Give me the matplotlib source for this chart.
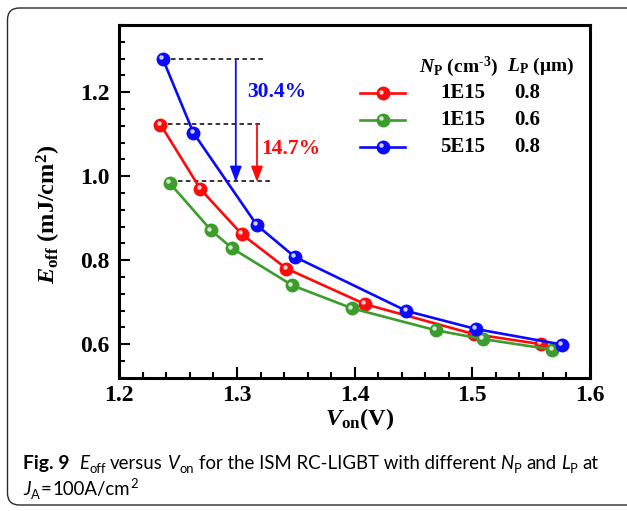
import matplotlib
matplotlib.use("Agg")
import matplotlib.pyplot as plt
from matplotlib.lines import Line2D
from matplotlib.patches import FancyBboxPatch
from matplotlib.transforms import offset_copy, IdentityTransform
from matplotlib.ticker import MultipleLocator

# ---------------- data ----------------
red_x = [1.235, 1.269, 1.304, 1.342, 1.409, 1.501, 1.558]
red_y = [1.123, 0.969, 0.862, 0.780, 0.695, 0.624, 0.600]
green_x = [1.243, 1.278, 1.296, 1.347, 1.398, 1.469, 1.509, 1.568]
green_y = [0.983, 0.871, 0.828, 0.740, 0.685, 0.633, 0.612, 0.587]
blue_x = [1.237, 1.263, 1.317, 1.349, 1.444, 1.503, 1.576]
blue_y = [1.279, 1.103, 0.883, 0.808, 0.679, 0.636, 0.599]

series_np = ["1E15", "1E15", "5E15"]
series_lp = ["0.8", "0.6", "0.8"]

dash_y = [1.279, 1.125, 0.988]
dash_x0 = [1.237, 1.235, 1.243]
dash_x1 = [1.323, 1.322, 1.328]

arrow_x = [1.299, 1.317]
arrow_top = [1.275, 1.122]
arrow_bottom = [0.986, 0.986]
pct_labels = ["30.4%", "14.7%"]
pct_x = [1.334, 1.346]
pct_y = [1.200, 1.064]

xticks = [1.2, 1.3, 1.4, 1.5, 1.6]
yticks = [0.6, 0.8, 1.0, 1.2]

RED = "#ff0a0a"
GREEN = "#3c9c2c"
BLUE = "#0a0aff"

# ---------------- style ----------------
plt.rcParams["mathtext.fontset"] = "custom"
plt.rcParams["mathtext.rm"] = "Liberation Serif:bold"
plt.rcParams["mathtext.bf"] = "Liberation Serif:bold"
plt.rcParams["mathtext.it"] = "Liberation Serif:italic:bold"
SERIF = "Liberation Serif"

fig = plt.figure(figsize=(6.27, 5.11), dpi=100)
W, H = 627, 511
ax = fig.add_axes([119.3 / W, 1 - 377.7 / H, (590 - 119.3) / W, (377.7 - 25) / H])

# figure border (rounded box)
border = FancyBboxPatch((7.5, 6), 680, 497, boxstyle="round,pad=0,rounding_size=12",
                        transform=IdentityTransform(), fill=False,
                        edgecolor="#2a2a2a", linewidth=1.0)
fig.patches.append(border)

hl = offset_copy(ax.transData, fig=fig, x=-1.8, y=1.8, units="dots")


def ball_series(x, y, color, z):
    ax.plot(x, y, color=color, lw=1.9, marker="o", ms=10, mec=color, mew=0, zorder=z)
    ax.plot(x, y, ls="none", marker="o", ms=3.2, mfc="white", mec="none", alpha=0.8,
            transform=hl, zorder=z + 0.1)


ball_series(red_x, red_y, RED, 3)
ball_series(green_x, green_y, GREEN, 4)
ball_series(blue_x, blue_y, BLUE, 5)

for y0, x0, x1 in zip(dash_y, dash_x0, dash_x1):
    ax.plot([x0, x1], [y0, y0], color="black", lw=1.1, ls=(0, (3.0, 2.2)), zorder=2)

for xa, yt, yb, c in zip(arrow_x, arrow_top, arrow_bottom, [BLUE, RED]):
    ax.annotate("", xy=(xa, yb), xytext=(xa, yt),
                arrowprops=dict(arrowstyle="-|>,head_length=0.85,head_width=0.32",
                                color=c, lw=1.3, shrinkA=0, shrinkB=0, mutation_scale=11),
                zorder=6)

for s, xx, yy, c in zip(pct_labels, pct_x, pct_y, [BLUE, RED]):
    ax.text(xx, yy, s, color=c, fontsize=15.5, fontweight="bold", family=SERIF,
            ha="center", va="center")

# ---------------- legend table ----------------
LFS = 15
hx0, hx1, hxm = 0.511, 0.607, 0.560
rows_y = [0.806, 0.731, 0.655]
for yy, c, a, b in zip(rows_y, [RED, GREEN, BLUE], series_np, series_lp):
    ax.add_line(Line2D([hx0, hx1], [yy, yy], color=c, lw=1.9, transform=ax.transAxes))
    ax.plot([hxm], [yy], marker="o", ms=10, color=c, mew=0, transform=ax.transAxes)
    ax.plot([hxm], [yy], marker="o", ms=3.2, mfc="white", mec="none", alpha=0.8,
            transform=offset_copy(ax.transAxes, fig=fig, x=-1.8, y=1.8, units="dots"))
    ax.text(0.730, yy, a, transform=ax.transAxes, fontsize=LFS, fontweight="bold",
            family=SERIF, ha="center", va="center")
    ax.text(0.866, yy, b, transform=ax.transAxes, fontsize=LFS, fontweight="bold",
            family=SERIF, ha="center", va="center")
ax.text(0.720, 0.882, r"$N_{\mathrm{P}}$ (cm$^{\mathrm{\text{-}3}}$)", transform=ax.transAxes,
        fontsize=14, fontweight="bold", family=SERIF, ha="center", va="center")
ax.text(0.895, 0.882, r"$L_{\mathrm{P}}$ ($\mathrm{\mu}$m)", transform=ax.transAxes,
        fontsize=14, fontweight="bold", family=SERIF, ha="center", va="center")

# ---------------- axes ----------------
ax.set_xlim(1.2, 1.6)
ax.set_ylim(0.52, 1.36)
ax.set_xticks(xticks)
ax.set_xticklabels([f"{v:.1f}" for v in xticks])
ax.set_yticks(yticks)
ax.set_yticklabels([f"{v:.1f}" for v in yticks])
ax.xaxis.set_minor_locator(MultipleLocator(0.02))
ax.yaxis.set_minor_locator(MultipleLocator(0.04))
ax.tick_params(which="both", direction="in", top=False, right=False, width=1.5)
ax.tick_params(which="major", length=8)
ax.tick_params(which="minor", length=4.2)
ax.tick_params(axis="x", pad=5)
ax.tick_params(axis="y", pad=7)
for lab in ax.get_xticklabels() + ax.get_yticklabels():
    lab.set_fontfamily(SERIF)
    lab.set_fontweight("bold")
    lab.set_fontsize(17)
for sp in ax.spines.values():
    sp.set_linewidth(2.2)

fig.text(49 / W, 1 - 214 / H, r"$E_{\mathrm{off}}$ (mJ/cm$^{\mathrm{2}}$)", rotation=90,
         fontsize=17.5, fontweight="bold", family=SERIF, ha="center", va="center")
fig.text(360 / W, 1 - 425 / H, r"$V_{\mathrm{on}}$(V)", fontsize=17.5, fontweight="bold",
         family=SERIF, ha="center", va="baseline")

# ---------------- caption (run layout) ----------------
CAP = "Lato"
CFS = 13.4
renderer = fig.canvas.get_renderer()


def measure(s, **kw):
    t = fig.text(0, 0, s, **kw)
    w = t.get_window_extent(renderer).width
    t.remove()
    return w


space_w = measure("a a", family=CAP, fontsize=CFS) - measure("aa", family=CAP, fontsize=CFS)


def layout(x_px, base_px, runs):
    x = x_px
    for s, style, kind, gap in runs:
        x += gap * space_w
        fs = CFS if kind == "n" else CFS * 0.7
        dy = 0 if kind == "n" else (-3.5 if kind == "sub" else 7.0)
        kw = dict(family=CAP, fontsize=fs, va="baseline", ha="left")
        if style == "b":
            kw["fontweight"] = "bold"
            kw["fontsize"] = fs * 1.04
        elif style == "i":
            kw["style"] = "italic"
        t = fig.text(x / W, (H - base_px + dy) / H, s, **kw)
        x = t.get_window_extent(renderer).x1


layout(23, 469, [
    ("Fig. 9", "b", "n", 0), ("E", "i", "n", 2), ("off", "r", "sub", 0),
    ("versus", "r", "n", 1), ("V", "i", "n", 1), ("on", "r", "sub", 0),
    ("for the ISM RC-LIGBT with different", "r", "n", 1), ("N", "i", "n", 1),
    ("P", "r", "sub", 0), ("and", "r", "n", 1), ("L", "i", "n", 1), ("P", "r", "sub", 0),
    ("at", "r", "n", 1),
])
layout(23, 495, [
    ("J", "i", "n", 0), ("A", "r", "sub", 0), ("=", "r", "n", 0.3), ("100A/cm", "r", "n", 0.3),
    ("2", "r", "sup", 0),
])

fig.savefig("out.png", dpi=100)
